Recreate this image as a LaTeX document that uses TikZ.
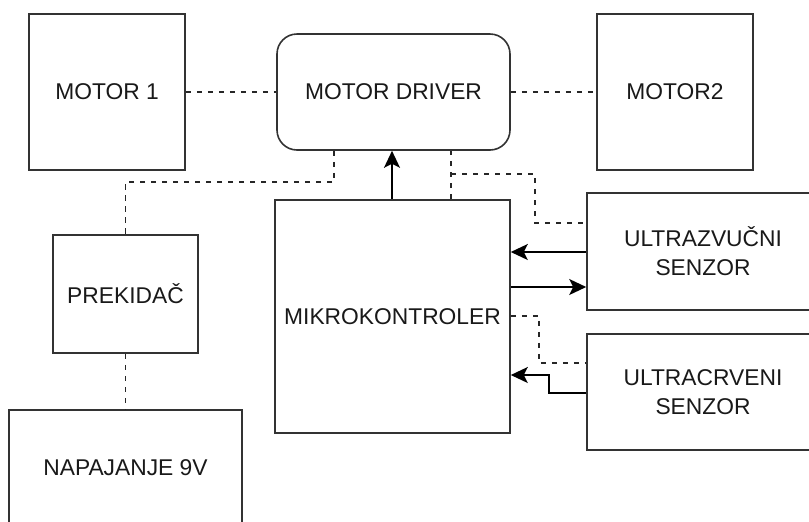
\documentclass[tikz,border=0pt]{standalone}
\usepackage{fontspec}
\setmainfont{Liberation Sans}
\usetikzlibrary{arrows.meta}
\begin{document}
\begin{tikzpicture}[x=0.5pt, y=-0.5pt, >={Stealth[length=8.5pt,width=8pt,inset=2pt]},
	blok/.style={draw=black!80, line width=0.8pt, fill=white, align=center, inner sep=0pt,
		text=black!90, font=\fontsize{11.4}{14.5}\selectfont},
	veza/.style={black!85, line width=0.9pt, dash pattern=on 2.7pt off 2.8pt},
	signal/.style={black, line width=0.9pt}]
	\useasboundingbox (0,0) rectangle (809,521);
	\clip (0,0) rectangle (809,521);
	
	% Blokovi
	\node[blok, minimum width=78pt, minimum height=78pt] (m1) at (107,92) {MOTOR 1};
	\node[blok, minimum width=116.5pt, minimum height=58pt, rounded corners=10pt] (drv) at (393.5,92) {MOTOR DRIVER};
	\node[blok, minimum width=78pt, minimum height=78pt] (m2) at (675,92) {MOTOR2};
	\node[blok, minimum width=72.5pt, minimum height=59pt] (prek) at (125.5,294) {PREKIDAČ};
	\node[blok, minimum width=116.5pt, minimum height=58pt] (nap) at (125.5,468) {NAPAJANJE 9V};
	\node[blok, minimum width=117.5pt, minimum height=116.5pt] (mcu) at (392.5,316.5) {MIKROKONTROLER};
	\node[blok, minimum width=116pt, minimum height=58.5pt] (uz) at (703,251.5) {ULTRAZVUČNI\\SENZOR};
	\node[blok, minimum width=116pt, minimum height=58pt] (ir) at (703,392) {ULTRACRVENI\\SENZOR};
	
	% Napajanje motora
	\draw[veza] (m1.east) -- (drv.west);
	\draw[veza] (drv.east) -- (m2.west);
	\draw[veza] (drv.south -| 334,0) -- (334,182) -| (prek.north);
	\draw[veza] (prek.south) -- (nap.north);
	
	% Upravljanje
	\draw[signal, ->] (mcu.north -| 392,0) -- (drv.south -| 392,0);
	\draw[veza] (mcu.north -| 451,0) -- (drv.south -| 451,0);
	\draw[veza] (451,174) -- (535,174) -- (535,223) -- (uz.west |- 0,223);
	
	% Senzori
	\draw[signal, ->] (uz.west |- 0,252) -- (mcu.east |- 0,252);
	\draw[signal, ->] (mcu.east |- 0,287) -- (uz.west |- 0,287);
	\draw[veza] (mcu.east |- 0,316) -- (539,316) -- (539,363) -- (ir.west |- 0,363);
	\draw[signal, ->] (ir.west |- 0,393) -- (549,393) -- (549,375) -- (mcu.east |- 0,375);
\end{tikzpicture}
\end{document}
